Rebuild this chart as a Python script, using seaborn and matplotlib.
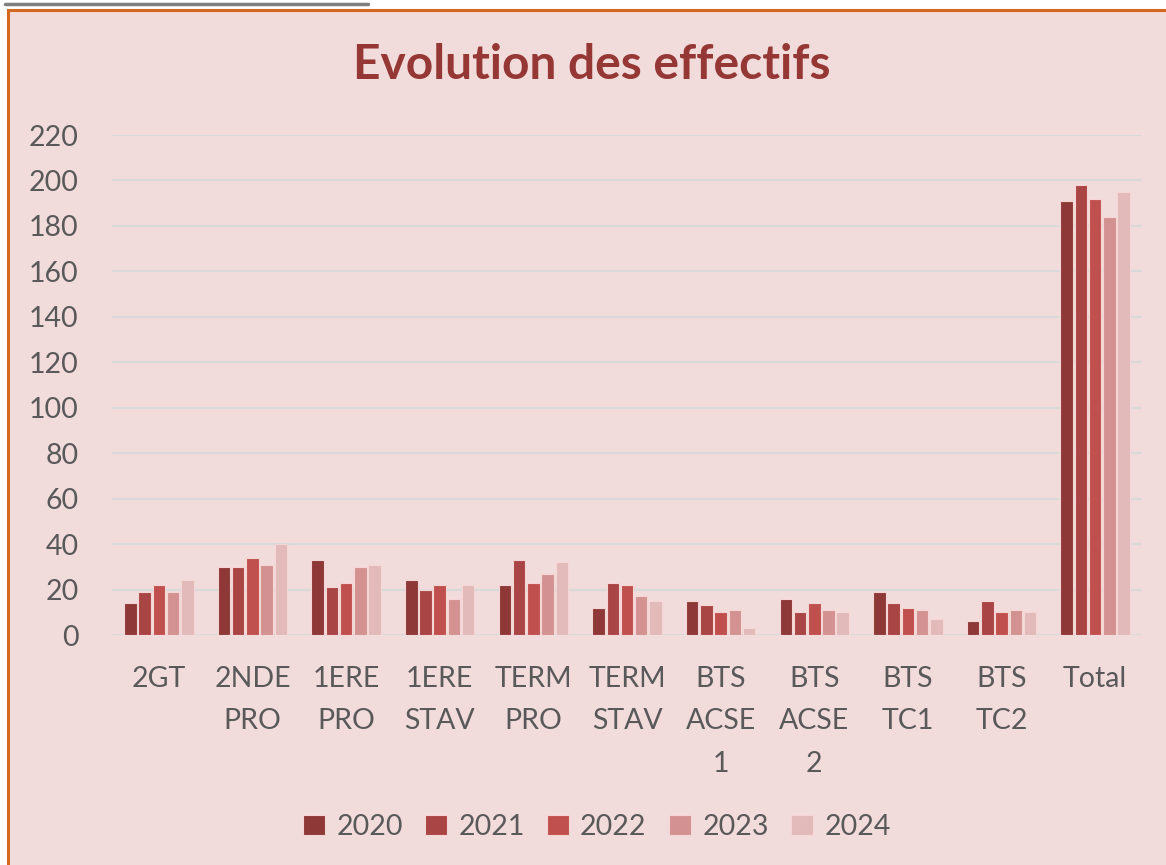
import matplotlib
matplotlib.use("Agg")
import matplotlib.pyplot as plt
from matplotlib.patches import Rectangle
import seaborn as sns
import pandas as pd

CLASSES = ["2GT", "2NDE\nPRO", "1ERE\nPRO", "1ERE\nSTAV", "TERM\nPRO", "TERM\nSTAV",
           "BTS\nACSE\n1", "BTS\nACSE\n2", "BTS\nTC1", "BTS\nTC2", "Total"]
YEARS = ["2020", "2021", "2022", "2023", "2024"]
Y2020 = [14, 30, 33, 24, 22, 12, 15, 16, 19, 6, 191]
Y2021 = [19, 30, 21, 20, 33, 23, 13, 10, 14, 15, 198]
Y2022 = [22, 34, 23, 22, 23, 22, 10, 14, 12, 10, 192]
Y2023 = [19, 31, 30, 16, 27, 17, 11, 11, 11, 11, 184]
Y2024 = [24, 40, 31, 22, 32, 15, 3, 10, 7, 10, 195]
YTICKS = list(range(0, 221, 20))

COLORS = ["#8E3838", "#AA4545", "#C0504D", "#D39291", "#E3BABA"]
BG = "#F2DCDB"
TEXT = "#595959"

rows = []
for year, vals in zip(YEARS, [Y2020, Y2021, Y2022, Y2023, Y2024]):
    for cls, v in zip(CLASSES, vals):
        rows.append({"classe": cls, "annee": year, "effectif": v})
df = pd.DataFrame(rows)

sns.set_style("white")
plt.rcParams["font.family"] = ["Lato", "DejaVu Sans"]

W, H = 1166, 865
fig = plt.figure(figsize=(W / 100, H / 100), dpi=100, facecolor="white")

# chart area with orange border (only top and left visible)
fig.patches.append(Rectangle((8 / W, -0.05), 1.1, (H - 10) / H + 0.05, transform=fig.transFigure,
                             facecolor=BG, edgecolor="#D2691E", linewidth=2.2, zorder=-10))
# underline of the cut-off heading above the chart
fig.lines.append(plt.Line2D([5 / W, 368 / W], [1 - 4 / H, 1 - 4 / H], transform=fig.transFigure,
                            color="#7F7F7F", linewidth=2.5, zorder=-5))

ax = fig.add_axes([112 / W, (H - 635) / H, 1030 / W, 500 / H])
ax.set_zorder(2)
ax.set_facecolor(BG)
sns.barplot(data=df, x="classe", y="effectif", hue="annee", palette=COLORS, saturation=1,
            width=0.76, gap=0.12, edgecolor="#F4D6D5", linewidth=0.8, ax=ax, zorder=3)

ax.set_ylim(0, 220)
ax.set_yticks(YTICKS)
ax.yaxis.grid(True, color="#D9D9D9", linewidth=1.6, zorder=0)
ax.set_axisbelow(True)
for s in ax.spines.values():
    s.set_visible(False)
ax.tick_params(axis="both", length=0, labelsize=20.5, colors=TEXT)
ax.tick_params(axis="y", pad=24)
ax.tick_params(axis="x", pad=22)
for lbl in ax.get_xticklabels():
    lbl.set_linespacing(1.8)
    lbl.set_verticalalignment("top")
ax.set_xlabel("")
ax.set_ylabel("")

fig.text(592 / W, 1 - 65 / H, "Evolution des effectifs", ha="center", va="center",
         fontsize=34.5, fontweight="bold", color="#953735", zorder=5)

handles, labels = ax.get_legend_handles_labels()
ax.legend(handles, labels, loc="center", bbox_to_anchor=(597 / W, 1 - 827 / H),
          bbox_transform=fig.transFigure, ncol=5, frameon=False, fontsize=20.5,
          labelcolor=TEXT, handlelength=0.75, handleheight=0.75, handletextpad=0.4,
          columnspacing=0.8)

fig.savefig("out.png", dpi=100, facecolor="white")
